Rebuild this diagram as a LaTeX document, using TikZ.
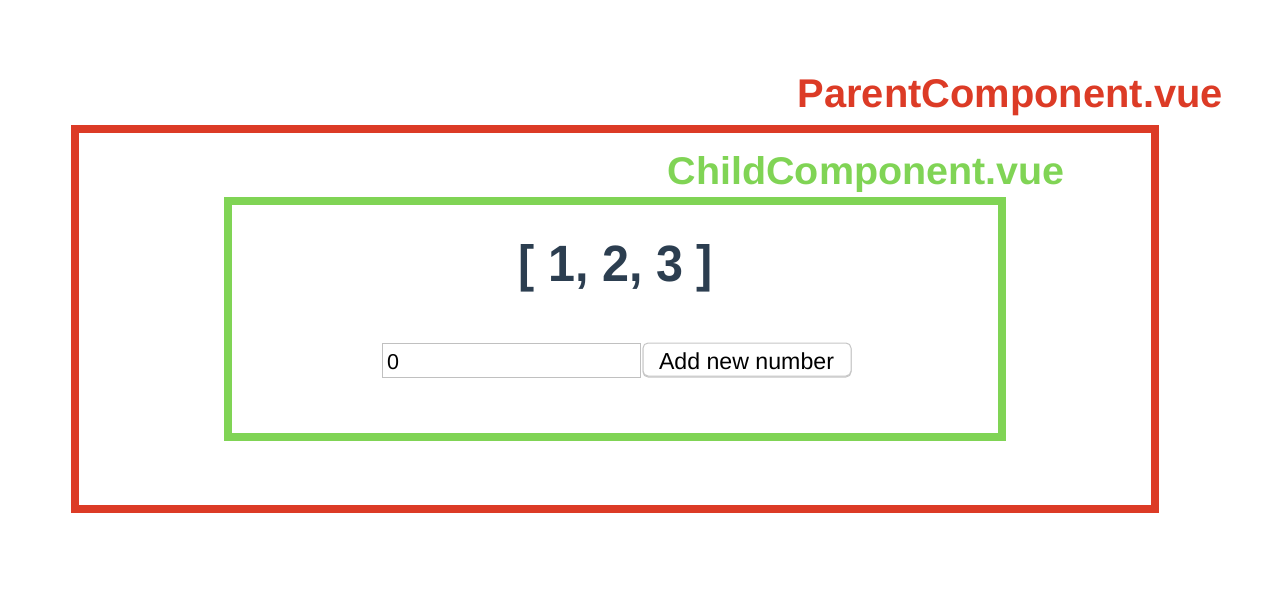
\documentclass[tikz,border=0pt]{standalone}
\usepackage{fontspec}
\setmainfont{Liberation Sans}
\usepackage{graphicx}
\definecolor{vuered}{RGB}{220,59,38}
\definecolor{vuegreen}{RGB}{128,212,85}
\definecolor{slate}{RGB}{44,62,80}
\definecolor{inputgray}{RGB}{192,192,192}
\definecolor{btngray}{RGB}{198,198,198}
\tikzset{
  compbox/.style={draw=#1, line width=8pt, inner sep=0pt},
  complabel/.style={text=#1, inner sep=0pt, anchor=base east, font=\bfseries},
  uitext/.style={inner sep=0pt, font=\fontsize{21.5}{24}\selectfont},
}
\begin{document}
\begin{tikzpicture}[x=1pt, y=-1pt]
\useasboundingbox (0,0) rectangle (1274,592);
% parent component
\node[compbox=vuered, minimum width=1080pt, minimum height=380pt] (parent) at (615,319) {};
\node[complabel=vuered] (parentlabel) at (1223,107) {\resizebox{425pt}{28pt}{ParentComponent.vue}};
% child component
\node[compbox=vuegreen, minimum width=774pt, minimum height=236pt] (child) at (615,319) {};
\node[complabel=vuegreen] (childlabel) at (1065,184) {\resizebox{397pt}{28pt}{ChildComponent.vue}};
% list
\node[inner sep=0pt, anchor=base, text=slate, font=\bfseries] (list) at (616,281) {\resizebox{194pt}{37pt}{[ 1, 2, 3 ]}};
% input
\node[draw=inputgray, line width=1pt, minimum width=258pt, minimum height=34pt, inner sep=0pt] (input) at (511,360) {};
\node[uitext, anchor=base west] (inputval) at (387,369) {0};
% button
\node[draw=btngray, line width=1pt, rounded corners=5pt, fill=black!8, minimum width=208pt, minimum height=33pt, inner sep=0pt] (btnshadow) at (747,360.5) {};
\node[draw=btngray, line width=1pt, rounded corners=5pt, fill=white, minimum width=208pt, minimum height=33pt, inner sep=0pt] (button) at (747,359.5) {};
\node[uitext, anchor=base] (btntext) at (746.5,369) {\resizebox{175pt}{!}{Add new number}};
\end{tikzpicture}
\end{document}
